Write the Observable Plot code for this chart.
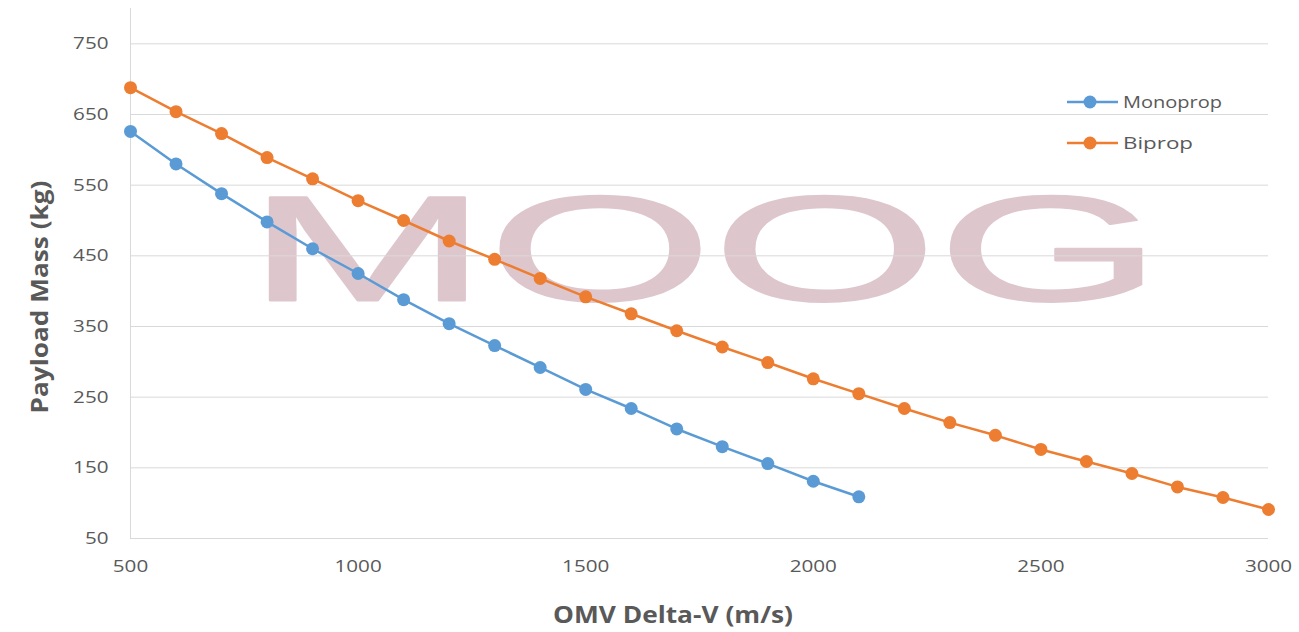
<!DOCTYPE html>
<html>
<head>
<meta charset="utf-8">
<script src="https://cdn.jsdelivr.net/npm/d3@7"></script>
<script src="https://cdn.jsdelivr.net/npm/@observablehq/plot@0.6"></script>
<style>
  html, body { margin: 0; padding: 0; background: #fff; }
  #wrap { position: relative; width: 1299px; height: 632px; font-family: "Open Sans", "Liberation Sans", sans-serif; }
</style>
</head>
<body>
<div id="wrap"></div>
<script>
const deltaV = [500,600,700,800,900,1000,1100,1200,1300,1400,1500,1600,1700,1800,1900,2000,2100,2200,2300,2400,2500,2600,2700,2800,2900,3000];
const monoprop = [626,580,538,498,460,425,388,354,323,292,261,234,205,180,156,131,109];
const biprop = [688,654,623,589,559,528,500,471,445,418,392,368,344,321,299,276,255,234,214,196,176,159,142,123,108,91];
const seriesNames = ["Monoprop", "Biprop"];
const seriesColors = ["#5b9bd5", "#ed7d31"];
const xTicks = [500,1000,1500,2000,2500,3000];
const yTicks = [50,150,250,350,450,550,650,750];
const watermark = ["MOOG"];

const data = [
  ...monoprop.map((v, i) => ({x: deltaV[i], y: v, s: seriesNames[0]})),
  ...biprop.map((v, i) => ({x: deltaV[i], y: v, s: seriesNames[1]}))
];

const plot = Plot.plot({
  width: 1299,
  height: 632,
  marginLeft: 130,
  marginRight: 31,
  marginTop: 8,
  marginBottom: 94,
  style: {fontFamily: "'Open Sans', 'Liberation Sans', sans-serif", color: "#595959", background: "#fff"},
  x: {domain: [500, 3000], label: null},
  y: {domain: [50, 800], label: null},
  color: {domain: seriesNames, range: seriesColors},
  marks: [
    Plot.text(watermark, {frameAnchor: "middle", dx: 5, dy: -21, text: d => d, fontSize: 150, fill: "#dec6cd", stroke: "#dec6cd", strokeWidth: 2, fontFamily: "'Liberation Sans', sans-serif", className: "wm"}),
    Plot.gridY(yTicks, {stroke: "#d9d9d9", strokeOpacity: 1, strokeWidth: 1}),
    Plot.ruleX([500], {stroke: "#d9d9d9", strokeWidth: 1}),
    Plot.line(data, {x: "x", y: "y", z: "s", stroke: "s", strokeWidth: 2.5}),
    Plot.dot(data, {x: "x", y: "y", fill: "s", r: 6.5}),
    Plot.axisX({ticks: xTicks, tickSize: 0, tickPadding: 21, tickFormat: d => String(d), fill: "#595959", fontSize: 17, label: null, className: "xt"}),
    Plot.axisY({ticks: yTicks, tickSize: 0, tickPadding: 22, tickFormat: d => String(d), fill: "#595959", fontSize: 17, label: null, className: "yt"})
  ]
});

const svg = d3.select(plot);
// stretch the watermark horizontally like the logo
svg.selectAll(".wm text").attr("textLength", 915).attr("lengthAdjust", "spacingAndGlyphs");
// tick labels in the reference are slightly wider than tall
svg.selectAll(".xt text, .yt text").each(function() {
  const n = this.textContent.length;
  d3.select(this).attr("textLength", n * 11.8).attr("lengthAdjust", "spacingAndGlyphs");
});

document.getElementById("wrap").appendChild(plot);

// axis titles
svg.append("text").attr("x", 673).attr("y", 623).attr("text-anchor", "middle")
  .attr("font-size", 23).attr("font-weight", "bold").attr("fill", "#595959")
  .attr("textLength", 240).attr("lengthAdjust", "spacingAndGlyphs").text("OMV Delta-V (m/s)");
svg.append("text").attr("transform", "translate(48,297) rotate(-90)").attr("text-anchor", "middle")
  .attr("font-size", 23).attr("font-weight", "bold").attr("fill", "#595959")
  .attr("textLength", 233).attr("lengthAdjust", "spacingAndGlyphs").text("Payload Mass (kg)");

// legend
const legendY = [102, 143];
const legendW = [99, 70];
seriesNames.forEach((name, i) => {
  const g = svg.append("g").attr("transform", `translate(1067,${legendY[i]})`);
  g.append("line").attr("x1", 0).attr("x2", 51).attr("y1", 0).attr("y2", 0).attr("stroke", seriesColors[i]).attr("stroke-width", 2.5);
  g.append("circle").attr("cx", 23).attr("cy", 0).attr("r", 6.5).attr("fill", seriesColors[i]);
  g.append("text").attr("x", 56).attr("y", 0).attr("dy", "0.35em").attr("text-anchor", "start")
    .attr("font-size", 17).attr("fill", "#595959")
    .attr("textLength", legendW[i]).attr("lengthAdjust", "spacingAndGlyphs").text(name);
});
</script>
</body>
</html>
